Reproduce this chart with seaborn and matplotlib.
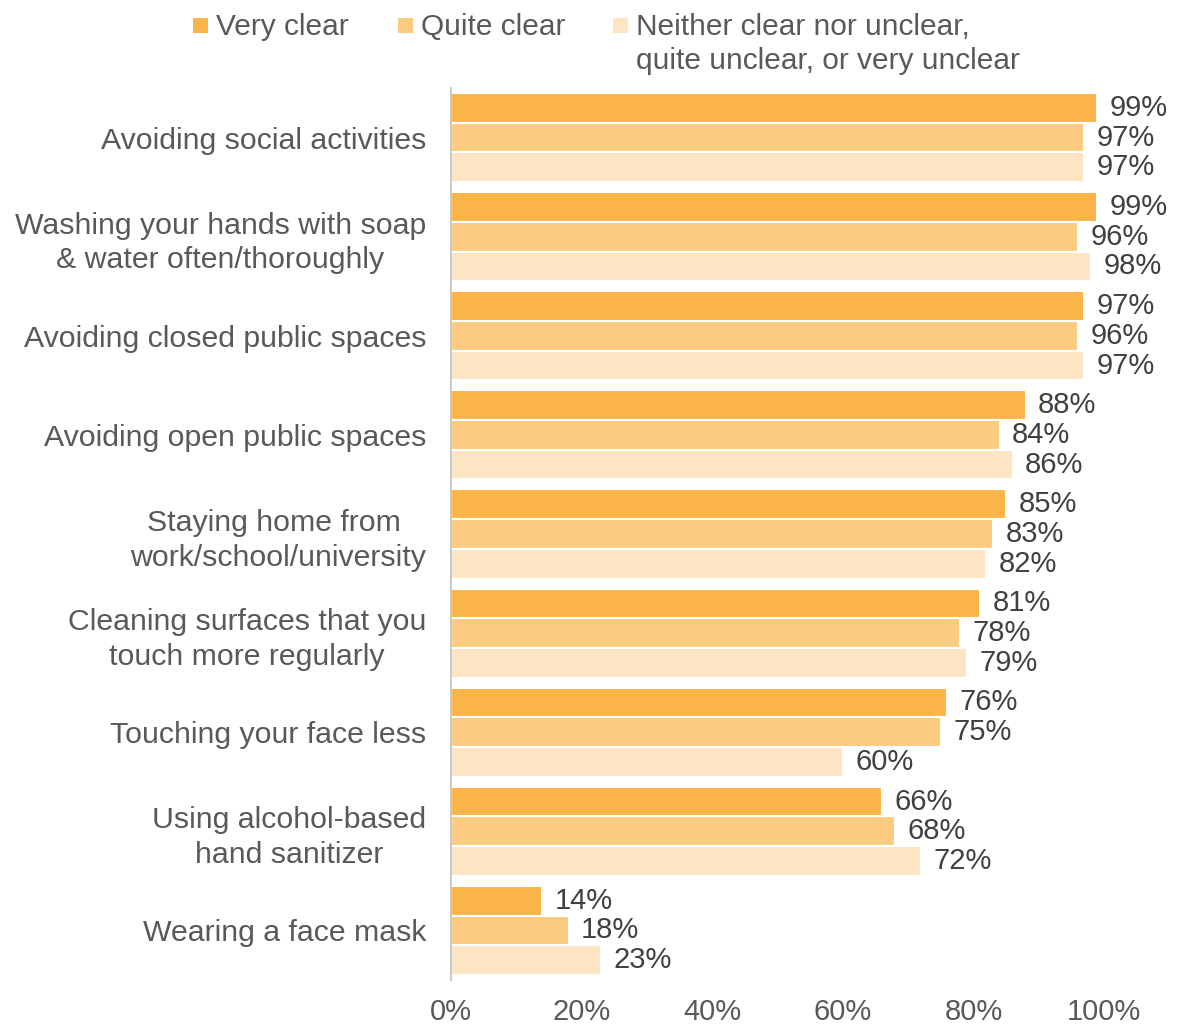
import matplotlib
matplotlib.use("Agg")
import matplotlib.pyplot as plt
import pandas as pd
import seaborn as sns
from matplotlib.patches import Rectangle

categories = [
    "Avoiding social activities",
    "Washing your hands with soap\n& water often/thoroughly",
    "Avoiding closed public spaces",
    "Avoiding open public spaces",
    "Staying home from \nwork/school/university",
    "Cleaning surfaces that you\ntouch more regularly",
    "Touching your face less",
    "Using alcohol-based\nhand sanitizer",
    "Wearing a face mask",
]
series = ["Very clear", "Quite clear",
          "Neither clear nor unclear,\nquite unclear, or very unclear"]
very_clear = [99, 99, 97, 88, 85, 81, 76, 66, 14]
quite_clear = [97, 96, 96, 84, 83, 78, 75, 68, 18]
neither = [97, 98, 97, 86, 82, 79, 60, 72, 23]
colors = ["#FBB447", "#FCCB82", "#FDE5C3"]
xticks = [0, 20, 40, 60, 80, 100]

rows = []
for s, vals in zip(series, [very_clear, quite_clear, neither]):
    for c, v in zip(categories, vals):
        rows.append({"category": c, "series": s, "value": v})
df = pd.DataFrame(rows)

sns.set_style("white")
plt.rcParams["font.family"] = ["Liberation Sans", "DejaVu Sans"]

W, H = 1180, 1028
fig = plt.figure(figsize=(W / 100, H / 100), dpi=100)
ax = fig.add_axes([451 / W, 48 / H, 653 / W, 892 / H])

sns.barplot(data=df, y="category", x="value", hue="series", order=categories,
            hue_order=series, palette=colors, orient="h", width=0.9,
            edgecolor="white", linewidth=1.5, saturation=1, ax=ax, legend=False)

for cont in ax.containers:
    ax.bar_label(cont, labels=[f"{int(w)}%" for w in cont.datavalues],
                 padding=9, fontsize=21, color="#404040")

ax.set_xlim(0, 100)
ax.set_ylim(len(categories) - 0.5, -0.5)
ax.set_xticks(xticks)
ax.set_xticklabels([f"{t}%" for t in xticks])
ax.set_xlabel("")
ax.set_ylabel("")
ax.tick_params(axis="x", length=0, pad=13, labelsize=21, labelcolor="#595959")
ax.tick_params(axis="y", length=0, pad=18, labelsize=21.8, labelcolor="#595959")
for lbl in ax.get_yticklabels():
    lbl.set_multialignment("center")
    lbl.set_linespacing(1.3)

for side in ["top", "right", "bottom"]:
    ax.spines[side].set_visible(False)
ax.spines["left"].set_color("#BFBFBF")
ax.spines["left"].set_linewidth(1.2)

# legend drawn by hand so the square sits on the first line of a two-line label
legend_x = [193, 398, 613]
for x0, c, lab in zip(legend_x, colors, series):
    fig.patches.append(Rectangle((x0 / W, 1 - 33 / H), 15 / W, 15 / H,
                                 transform=fig.transFigure, facecolor=c,
                                 edgecolor="none"))
    for i, line in enumerate(lab.split("\n")):
        fig.text((x0 + 23) / W, 1 - (35 + 34 * i) / H, line, fontsize=21.5,
                 color="#595959", ha="left", va="baseline")

fig.savefig("out.png", dpi=100)
